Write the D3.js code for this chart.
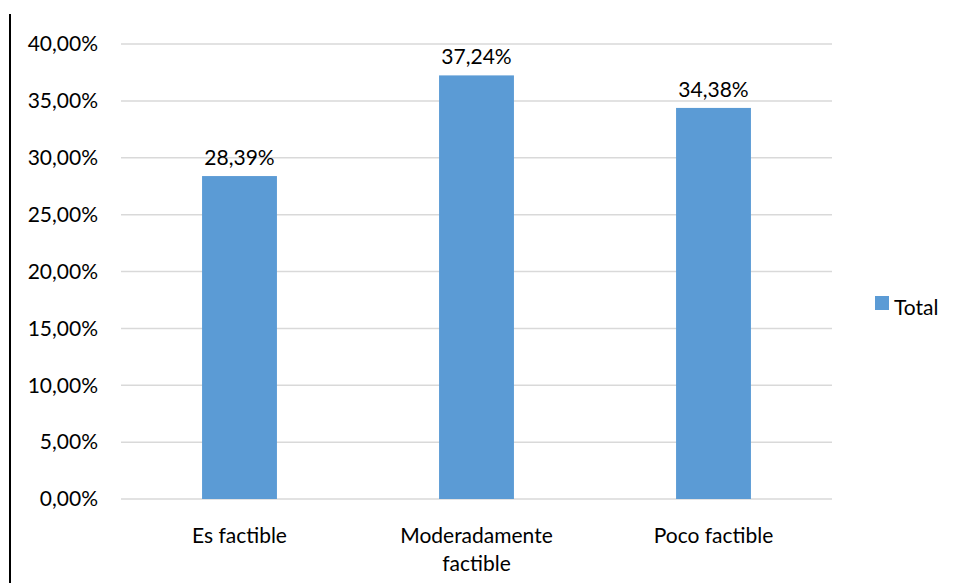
<!DOCTYPE html>
<html><head><meta charset="utf-8">
<script src="https://cdn.jsdelivr.net/npm/d3@7"></script>
<style>body{margin:0;background:#fff}svg{display:block}text{font-family:Lato,"Open Sans",sans-serif;fill:#000}</style>
</head><body>
<script>
const categories = [["Es factible"], ["Moderadamente", "factible"], ["Poco factible"]];
const values = [28.39, 37.24, 34.38];
const labels = ["28,39%", "37,24%", "34,38%"];
const yTicks = [0, 5, 10, 15, 20, 25, 30, 35, 40];
const seriesName = "Total";

const W = 956, H = 583, FS = 21;
const svg = d3.select("body").append("svg").attr("width", W).attr("height", H);
const color = "#5b9bd5";
const keys = categories.map(c => c.join(" "));
const x = d3.scaleBand().domain(keys).range([121, 832]).paddingInner(0.684).paddingOuter(0.342);
const y = d3.scaleLinear().domain([0, 40]).range([499, 44]);

svg.append("line").attr("x1", 10).attr("x2", 10).attr("y1", 14).attr("y2", H)
  .attr("stroke", "#000").attr("stroke-width", 2);

svg.append("g").selectAll("line").data(yTicks).join("line")
  .attr("x1", 121).attr("x2", 832).attr("y1", d => y(d)).attr("y2", d => y(d))
  .attr("stroke", "#d9d9d9").attr("stroke-width", 1.5);

const fmt = v => v.toFixed(2).replace(".", ",") + "%";
svg.append("g").selectAll("text").data(yTicks).join("text")
  .attr("x", 98).attr("y", d => y(d)).attr("dy", "0.35em").attr("text-anchor", "end")
  .attr("font-size", FS).text(fmt);

svg.append("g").selectAll("rect").data(values).join("rect")
  .attr("x", (d, i) => x(keys[i])).attr("width", x.bandwidth())
  .attr("y", d => y(d)).attr("height", d => y(0) - y(d)).attr("fill", color);

svg.append("g").selectAll("text").data(values).join("text")
  .attr("x", (d, i) => x(keys[i]) + x.bandwidth() / 2).attr("y", d => y(d) - 11)
  .attr("text-anchor", "middle").attr("font-size", FS).text((d, i) => labels[i]);

const cg = svg.append("g").selectAll("text").data(categories).join("text")
  .attr("text-anchor", "middle").attr("font-size", FS)
  .attr("x", (d, i) => x(keys[i]) + x.bandwidth() / 2).attr("y", 543);
cg.selectAll("tspan").data(d => d).join("tspan")
  .attr("x", function () { return this.parentNode.getAttribute("x"); })
  .attr("dy", (d, i) => i === 0 ? 0 : 28).text(d => d);

svg.append("rect").attr("x", 875).attr("y", 296).attr("width", 14).attr("height", 14).attr("fill", color);
svg.append("text").attr("x", 894).attr("y", 315).attr("font-size", FS).text(seriesName);
</script>
</body></html>
